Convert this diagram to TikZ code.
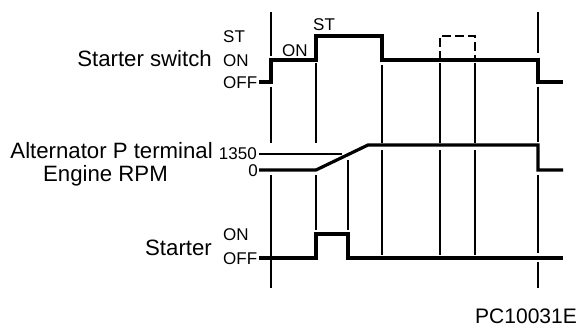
\documentclass[tikz,border=0pt]{standalone}
\usepackage{fontspec}
\setmainfont{Liberation Sans}
\usetikzlibrary{positioning}
\tikzset{
  signal/.style={line width=3.2pt, line join=miter},
  guide/.style={line width=1.6pt},
  spare/.style={line width=2pt, dash pattern=on 9pt off 4pt},
  big/.style={font=\fontsize{22.2}{26}\selectfont, inner sep=0pt},
  small/.style={font=\fontsize{17}{20}\selectfont, inner sep=0pt},
}

\begin{document}
\begin{tikzpicture}[x=1pt, y=-1pt]
  \useasboundingbox (0,0) rectangle (578,334);
  % labels on the left
  \node[big, anchor=base east] (sw) at (212,67) {Starter switch};
  \node[small, anchor=base west] (swst) at (223,43) {ST};
  \node[small, anchor=base west] (swon) at (223,67) {ON};
  \node[small, anchor=base west] (swoff) at (223,89) {OFF};
  \node[small, anchor=base west] (on) at (282,57) {ON};
  \node[small, anchor=base west] (st) at (313,31) {ST};
  \node[big, anchor=base east] (alt) at (213,158) {Alternator P terminal};
  \node[big, anchor=base] (rpm) at (105.5,181) {Engine RPM};
  \node[small, anchor=base east] (hi) at (257,159) {1350};
  \node[small, anchor=base east] (lo) at (258,176) {0};
  \node[big, anchor=base east] (starter) at (212,255) {Starter};
  \node[small, anchor=base west] (starteron) at (223,240) {ON};
  \node[small, anchor=base west] (starteroff) at (223,264) {OFF};
  \node[big, anchor=base east, font=\fontsize{21}{25}\selectfont] (code) at (577,323) {PC10031E};
  % time marks
  \foreach \x/\a/\b in {271/12/56, 271/87/143, 271/175/288,
                        316/63/143, 316/175/230, 348/160/230,
                        382/65/143, 382/150/255,
                        440/63/143, 440/150/255, 475/63/143, 475/150/255,
                        538/12/53, 538/87/142, 538/175/253, 538/262/288}
    \draw[guide] (\x,\a) -- (\x,\b);
  % waveforms
  \draw[signal] (259,82) -- (271,82) -- (271,60) -- (316,60) -- (316,36)
    -- (382,36) -- (382,60) -- (538,60) -- (538,82) -- (563,82);
  \draw[spare] (440,60) -- (440,36) -- (475,36) -- (475,60);
  \draw[guide] (259,154) -- (342,154);
  \draw[signal] (259,170) -- (316,170) -- (368,145) -- (538,145) -- (538,170) -- (563,170);
  \draw[signal] (259,258) -- (316,258) -- (316,234) -- (348,234) -- (348,258) -- (563,258);
\end{tikzpicture}
\end{document}
